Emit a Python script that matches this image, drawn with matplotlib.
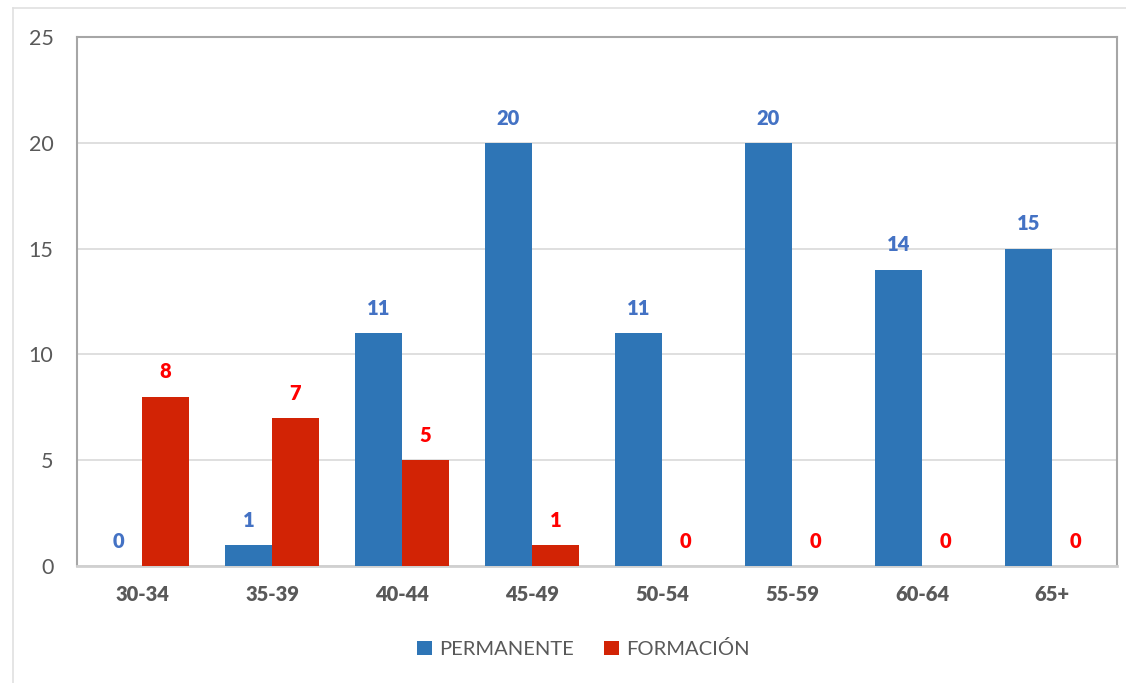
import matplotlib.pyplot as plt
import numpy as np
from matplotlib.lines import Line2D

categories = ['30-34', '35-39', '40-44', '45-49', '50-54', '55-59', '60-64', '65+']
permanente = [0, 1, 11, 20, 11, 20, 14, 15]
formacion = [8, 7, 5, 1, 0, 0, 0, 0]

blue = '#2E75B6'
red = '#D22305'
text_gray = '#595959'

plt.rcParams['font.family'] = ['Lato', 'DejaVu Sans']

fig = plt.figure(figsize=(11.26, 6.83), dpi=100)
ax = fig.add_axes([77/1126, 117/683, 1040/1126, 529/683])

x = np.arange(len(categories))
w = 0.362
b1 = ax.bar(x - w/2, permanente, w, color=blue, label='PERMANENTE', zorder=3)
b2 = ax.bar(x + w/2, formacion, w, color=red, label='FORMACIÓN', zorder=3)

# data labels
for rect, v in zip(b1, permanente):
    ax.annotate(str(v), (rect.get_x() + rect.get_width()/2, v), xytext=(0, 11),
                textcoords='offset points', ha='center', va='bottom',
                color='#4472C4', fontsize=14.5, fontweight='heavy')
for rect, v in zip(b2, formacion):
    ax.annotate(str(v), (rect.get_x() + rect.get_width()/2, v), xytext=(0, 11),
                textcoords='offset points', ha='center', va='bottom',
                color='#FF0000', fontsize=14.5, fontweight='heavy')

ax.set_xlim(-0.5, len(categories) - 0.5)
ax.set_ylim(0, 25)
ax.set_yticks(range(0, 26, 5))
ax.set_xticks(x)
ax.set_xticklabels(categories, fontweight='heavy', fontsize=14.5, color=text_gray)
ax.tick_params(axis='y', length=0, pad=17, labelsize=15.5, labelcolor=text_gray)
ax.tick_params(axis='x', length=0, pad=14)
ax.yaxis.grid(True, color='#D9D9D9', linewidth=1.2, zorder=0)

for side in ['left', 'top', 'right']:
    ax.spines[side].set_color('#A6A6A6')
    ax.spines[side].set_linewidth(1.5)
ax.spines['bottom'].set_color('#D0D0D0')
ax.spines['bottom'].set_linewidth(2)

leg = fig.legend(loc='center', bbox_to_anchor=(583/1126, 1 - 649/683), ncol=2,
                 frameon=False, fontsize=14.5, handlelength=0.75, handleheight=0.75,
                 columnspacing=1.5, handletextpad=0.35)
for t in leg.get_texts():
    t.set_color(text_gray)

# outer chart border (top and left visible)
fig.add_artist(Line2D([13/1126, 1], [1 - 8/683, 1 - 8/683], color='#E0E0E0', linewidth=1.2))
fig.add_artist(Line2D([13/1126, 13/1126], [0, 1 - 8/683], color='#E0E0E0', linewidth=1.2))

fig.savefig('out.png', dpi=100)
